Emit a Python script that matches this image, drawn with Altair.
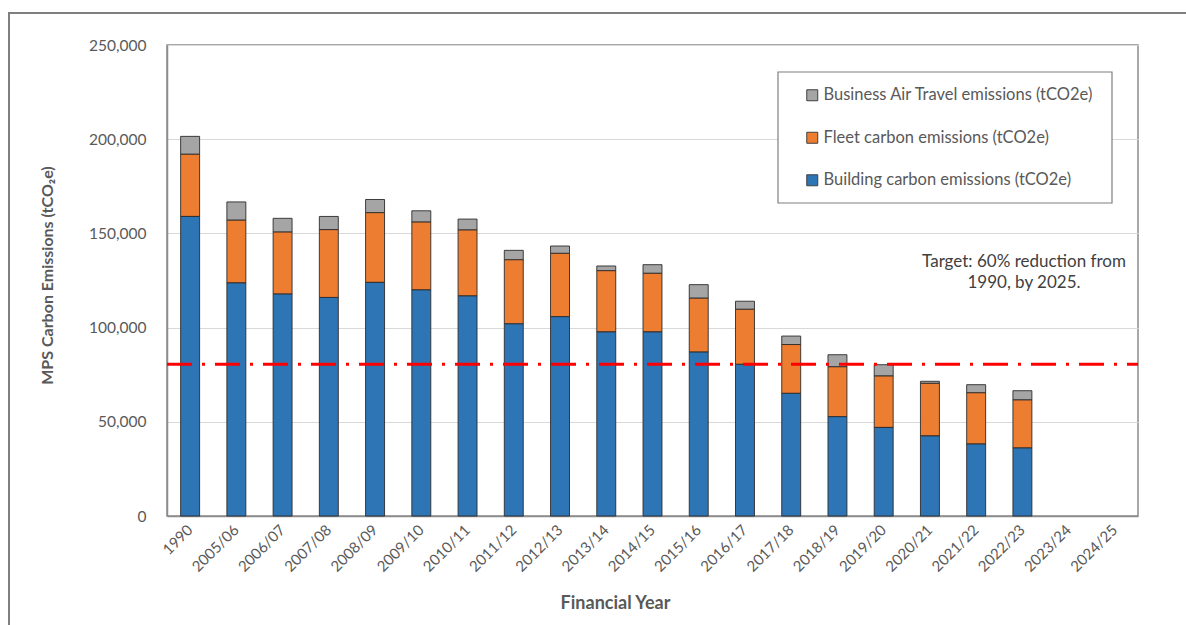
import altair as alt
import pandas as pd

years = ["1990", "2005/06", "2006/07", "2007/08", "2008/09", "2009/10", "2010/11",
         "2011/12", "2012/13", "2013/14", "2014/15", "2015/16", "2016/17", "2017/18",
         "2018/19", "2019/20", "2020/21", "2021/22", "2022/23", "2023/24", "2024/25"]
building = [159000, 123700, 117800, 116000, 124000, 120000, 116800, 102000, 105800, 97700,
            97700, 87000, 80500, 65100, 52700, 47000, 42500, 38200, 36100, 0, 0]
fleet = [33000, 33300, 32900, 36000, 37000, 36000, 35000, 34000, 33600, 32500,
         31100, 28600, 29200, 25900, 26500, 27300, 27900, 27200, 25500, 0, 0]
air = [9500, 9700, 7300, 7000, 7000, 6000, 5800, 5000, 3900, 2500,
       4600, 7200, 4300, 4500, 6400, 6000, 1100, 4300, 4900, 0, 0]
series = ["Business Air Travel emissions (tCO2e)",
          "Fleet carbon emissions (tCO2e)",
          "Building carbon emissions (tCO2e)"]
colors = ["#A5A5A5", "#ED7D31", "#2E75B6"]
stack_rank = [2, 1, 0]
target = [80600]
y_ticks = [0, 50000, 100000, 150000, 200000, 250000]
target_text = ["Target: 60% reduction from", "1990, by 2025."]

rows = []
for i, yr in enumerate(years):
    for name, vals, rank in zip(series, [air, fleet, building], stack_rank):
        if vals[i] > 0:
            rows.append({"year": yr, "series": name, "value": vals[i], "rank": rank})
df = pd.DataFrame(rows)

W, H = 971, 471
FONT = "Lato"
GREY = "#595959"

y_scale = alt.Scale(domain=[0, 250000], nice=False)

bars = alt.Chart(df).mark_bar(stroke="#2b2b2b", strokeWidth=0.9).encode(
    x=alt.X("year:N", sort=years,
            scale=alt.Scale(domain=years, paddingInner=0.59, paddingOuter=0.295),
            axis=alt.Axis(title="Financial Year", labelAngle=-45, labelAlign="right",
                          labelBaseline="middle", labelPadding=11, labelFontSize=15,
                          labelColor=GREY, ticks=False, domainColor="#8c8c8c",
                          domainWidth=1.5, titleFontSize=18, titleFontWeight="bold",
                          titleColor=GREY, titleX=448, titleY=87,
                          titleBaseline="middle", titleAnchor="middle")),
    y=alt.Y("value:Q", stack="zero", scale=y_scale,
            axis=alt.Axis(title="MPS Carbon Emissions (tCO₂e)", values=y_ticks,
                          format=",d", labelFontSize=15.5, labelColor=GREY,
                          labelPadding=21, ticks=False, domainColor="#8c8c8c",
                          domainWidth=1.5, gridColor="#d9d9d9", gridWidth=1,
                          titleFontSize=16, titleFontWeight="bold", titleColor=GREY,
                          titleX=-120, titleY=230, titleAngle=-90,
                          titleBaseline="middle", titleAlign="center")),
    color=alt.Color("series:N", scale=alt.Scale(domain=series, range=colors),
                    legend=alt.Legend(title=None, orient="none", legendX=637,
                                      legendY=42, direction="vertical",
                                      symbolType="square", symbolSize=121,
                                      symbolStrokeColor="#404040",
                                      symbolStrokeWidth=1, symbolOpacity=1,
                                      labelFontSize=16.5, labelColor=GREY,
                                      labelFont=FONT, rowPadding=25.5,
                                      labelOffset=3, labelLimit=400, padding=0)),
    order=alt.Order("rank:Q", sort="ascending"),
)

outer = alt.Chart(pd.DataFrame({"a": [0]})).mark_rect(
    fill="white", fillOpacity=0, stroke="#7f7f7f", strokeWidth=2).encode(
    x=alt.value(-158), x2=alt.value(W + 300), y=alt.value(-32), y2=alt.value(H + 300))

legend_box = alt.Chart(pd.DataFrame({"a": [0]})).mark_rect(
    fill="white", stroke="#7f7f7f", strokeWidth=1.2).encode(
    x=alt.value(611), x2=alt.value(945), y=alt.value(27), y2=alt.value(158))

rule = alt.Chart(pd.DataFrame({"target": target})).mark_rule(
    color="#FF0000", strokeWidth=3, strokeDash=[25, 10, 3, 10]).encode(
    y=alt.Y("target:Q", scale=y_scale), x=alt.value(0), x2=alt.value(W))

note = alt.Chart(pd.DataFrame({"a": [0]})).mark_text(
    text=target_text, font=FONT, fontSize=17, color="#404040", align="center",
    baseline="middle", lineHeight=21).encode(x=alt.value(857), y=alt.value(217))

chart = alt.layer(outer, legend_box, bars, rule, note).properties(
    width=W, height=H,
    autosize=alt.AutoSizeParams(type="none"),
    padding={"left": 167, "top": 45, "right": 48, "bottom": 109},
).configure(font=FONT).configure_view(stroke="#8c8c8c", strokeWidth=1.5)

chart.save("out.html", embed_options={"renderer": "svg", "actions": False})
